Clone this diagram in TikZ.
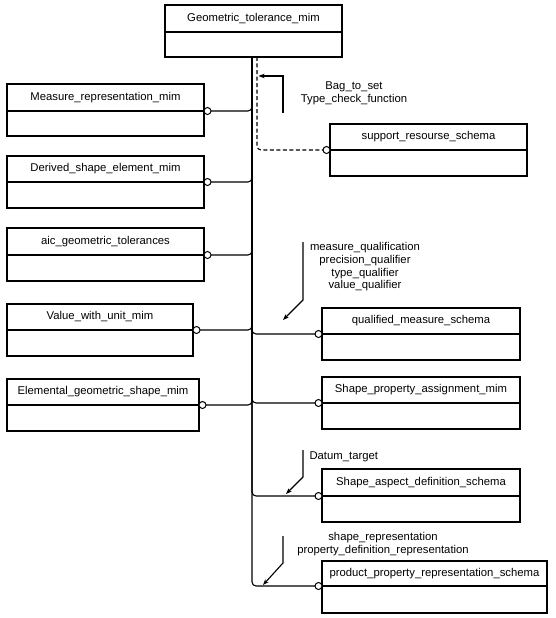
\documentclass[tikz,border=0pt]{standalone}
\usepackage{fontspec}
\setmainfont{Liberation Sans}
\usetikzlibrary{arrows.meta,calc}
\begin{document}
\begin{tikzpicture}[x=1pt,y=-1pt, line width=1.1pt,
 every node/.style={font=\fontsize{11.3}{12.7}\selectfont},
 hdr/.style={draw, inner sep=0pt, outer sep=0pt, minimum height=27pt, anchor=north west},
 bdy/.style={draw, inner sep=0pt, outer sep=0pt, minimum height=26pt, anchor=north},
 port/.style={draw, circle, fill=white, inner sep=0pt, outer sep=0pt, minimum size=7pt, line width=1pt},
 link/.style={rounded corners=4pt},
 note/.style={-{Stealth[length=6pt,width=4.5pt]}},
 lbl/.style={align=center, inner sep=0pt}
]
\useasboundingbox (0,0) rectangle (556,618);

% top box
\node[hdr, minimum width=177pt] (gt) at (165,5) {Geometric\_tolerance\_mim};
\node[bdy, minimum width=177pt, minimum height=25pt] (gtb) at (gt.south) {};
\coordinate (tr) at (252,57);
\coordinate (dt) at (257,57);

% left boxes
\node[hdr, minimum width=197pt] (mr) at (7,84) {Measure\_representation\_mim};
\node[bdy, minimum width=197pt, minimum height=25pt] (mrb) at (mr.south) {};
\node[hdr, minimum width=197pt, minimum height=26pt] (dse) at (7,156) {Derived\_shape\_element\_mim};
\node[bdy, minimum width=197pt] (dseb) at (dse.south) {};
\node[hdr, minimum width=197pt] (aic) at (7,228) {aic\_geometric\_tolerances};
\node[bdy, minimum width=197pt] (aicb) at (aic.south) {};
\node[hdr, minimum width=186pt, minimum height=26pt] (vwu) at (7,304) {Value\_with\_unit\_mim};
\node[bdy, minimum width=186pt] (vwub) at (vwu.south) {};
\node[hdr, minimum width=192pt, minimum height=26pt] (egs) at (7,379) {Elemental\_geometric\_shape\_mim};
\node[bdy, minimum width=192pt] (egsb) at (egs.south) {};

% right boxes
\node[hdr, minimum width=197pt, minimum height=26pt] (sup) at (330,124) {support\_resourse\_schema};
\node[bdy, minimum width=197pt] (supb) at (sup.south) {};
\node[hdr, minimum width=198pt, minimum height=26pt] (qms) at (322,308) {qualified\_measure\_schema};
\node[bdy, minimum width=198pt] (qmsb) at (qms.south) {};
\node[hdr, minimum width=198pt, minimum height=26pt] (spa) at (322,377) {Shape\_property\_assignment\_mim};
\node[bdy, minimum width=198pt] (spab) at (spa.south) {};
\node[hdr, minimum width=198pt] (sad) at (322,469) {Shape\_aspect\_definition\_schema};
\node[bdy, minimum width=198pt] (sadb) at (sad.south) {};
\node[hdr, minimum width=225pt, minimum height=25pt] (ppr) at (322,561) {product\_property\_representation\_schema};
\node[bdy, minimum width=225pt, minimum height=27pt] (pprb) at (ppr.south) {};

% ports
\node[port, anchor=west] (pmr) at (mr.south east) {};
\node[port, anchor=west] (pdse) at (dse.south east) {};
\node[port, anchor=west] (paic) at (aic.south east) {};
\node[port, anchor=west] (pvwu) at (vwu.south east) {};
\node[port, anchor=west] (pegs) at (egs.south east) {};
\node[port, anchor=east] (psup) at (sup.south west) {};
\node[port, anchor=east] (pqms) at (qms.south west) {};
\node[port, anchor=east] (pspa) at (spa.south west) {};
\node[port, anchor=east] (psad) at (sad.south west) {};
\node[port, anchor=east] (pppr) at (ppr.south west) {};

% trunk and branches
\draw[link] (tr) |- (pppr.west);
\draw[link] (pmr.east) -| (tr);
\draw[link] (pdse.east) -| (tr);
\draw[link] (paic.east) -| (tr);
\draw[link] (pvwu.east) -| (tr);
\draw[link] (pegs.east) -| (tr);
\draw[link] (tr) |- (pqms.west);
\draw[link] (tr) |- (pspa.west);
\draw[link] (tr) |- (psad.west);
\draw[link, dash pattern=on 4pt off 2.5pt] (dt) |- (psup.west);

% annotation arrows
\coordinate (b0) at (283,113);
\coordinate (b1) at (258.5,76);
\draw[note] (b0) |- (b1);
\coordinate (m0) at (303,242);
\coordinate (m1) at (303,300);
\coordinate (m2) at (283,320);
\draw[note] (m0) -- (m1) -- (m2);
\coordinate (d0) at (303,450);
\coordinate (d1) at (303,477);
\coordinate (d2) at (286,494);
\draw[note] (d0) -- (d1) -- (d2);
\coordinate (s0) at (283,536);
\coordinate (s1) at (283,563);
\coordinate (s2) at (263,585);
\draw[note] (s0) -- (s1) -- (s2);

% labels
\node[lbl] (lb1) at (354,93.5) {Bag\_to\_set\\Type\_check\_function};
\node[lbl] (lb2) at (365,267) {measure\_qualification\\precision\_qualifier\\type\_qualifier\\value\_qualifier};
\node[lbl, anchor=west] (lb3) at (309,457) {Datum\_target};
\node[lbl] (lb4) at (383,544) {shape\_representation\\property\_definition\_representation};
\end{tikzpicture}
\end{document}
